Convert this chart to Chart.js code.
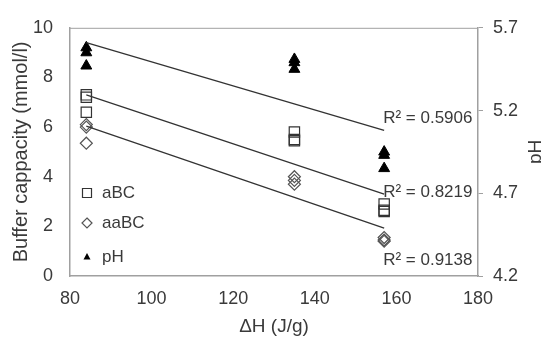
<!DOCTYPE html>
<html>
<head>
<meta charset="utf-8">
<script src="https://cdn.jsdelivr.net/npm/chart.js@4.4.0/dist/chart.umd.min.js"></script>
<style>
  html, body { margin: 0; padding: 0; background: #fff; }
  #wrap { width: 541px; height: 338px; }
</style>
</head>
<body>
<div id="wrap"><canvas id="chart" width="541" height="338"></canvas></div>
<script>
// values (3 replicates per enthalpy value)
const dH = [84, 84, 84, 135, 135, 135, 157, 157, 157];
const aBC = [7.3, 7.2, 6.6, 5.8, 5.5, 5.45, 2.9, 2.65, 2.6];
const aaBC = [6.1, 6.0, 5.35, 4.0, 3.85, 3.7, 1.55, 1.45, 1.4];
const pH = [5.58, 5.55, 5.47, 5.51, 5.49, 5.45, 4.95, 4.93, 4.85];

// linear trendlines, end points
const trendX = [84, 157];
const aBCTrend = [7.3, 3.3];
const aaBCTrend = [6.04, 1.93];
const pHTrend = [5.61, 5.08];
const r2Labels = ["R² = 0.5906", "R² = 0.8219", "R² = 0.9138"];

const xTicks = [80, 100, 120, 140, 160, 180];
const leftTicks = [0, 2, 4, 6, 8, 10];
const rightTicks = [4.2, 4.7, 5.2, 5.7];

const FONT = "'Liberation Sans', Arial, sans-serif";
const TXT = "#3a3a3a";
const AXIS = "#a0a0a0";

const pts = (xs, ys) => xs.map((x, i) => ({ x: x, y: ys[i] }));
const fixTicks = (arr) => (scale) => { scale.ticks = arr.map((v) => ({ value: v })); };

// top frame line, pH title, R² labels and the in-plot legend
const extras = {
  id: "extras",
  afterDraw(chart) {
    const { ctx, chartArea: a, scales } = chart;
    ctx.save();
    ctx.strokeStyle = AXIS;
    ctx.lineWidth = 1;
    ctx.beginPath();
    ctx.moveTo(a.left, a.top + 0.5);
    ctx.lineTo(a.right, a.top + 0.5);
    ctx.stroke();

    // pH title, rotated like the left one
    ctx.fillStyle = TXT;
    ctx.font = "19px " + FONT;
    ctx.save();
    ctx.translate(541, (a.top + a.bottom) / 2);
    ctx.rotate(-Math.PI / 2);
    ctx.textAlign = "center";
    ctx.textBaseline = "alphabetic";
    ctx.fillText("pH", 0, 0);
    ctx.restore();

    // R² labels next to the line ends
    ctx.font = "17px " + FONT;
    ctx.textAlign = "left";
    ctx.textBaseline = "middle";
    const lx = scales.x.getPixelForValue(157) - 1;
    const ly = [6.35, 3.37, 0.63];
    r2Labels.forEach((t, i) => ctx.fillText(t, lx, scales.y.getPixelForValue(ly[i])));

    // legend
    const items = [
      { label: "aBC", kind: "rect", y: 193 },
      { label: "aaBC", kind: "diamond", y: 223 },
      { label: "pH", kind: "tri", y: 257 }
    ];
    const mx = 87;
    items.forEach((it) => {
      ctx.lineWidth = 1.2;
      ctx.beginPath();
      if (it.kind === "rect") {
        ctx.strokeStyle = "#333";
        ctx.rect(mx - 4.5, it.y - 4.5, 9, 9);
        ctx.stroke();
      } else if (it.kind === "diamond") {
        ctx.strokeStyle = "#555";
        ctx.moveTo(mx, it.y - 5);
        ctx.lineTo(mx + 5, it.y);
        ctx.lineTo(mx, it.y + 5);
        ctx.lineTo(mx - 5, it.y);
        ctx.closePath();
        ctx.stroke();
      } else {
        ctx.fillStyle = "#000";
        ctx.moveTo(mx, it.y - 4);
        ctx.lineTo(mx + 3.5, it.y + 2.5);
        ctx.lineTo(mx - 3.5, it.y + 2.5);
        ctx.closePath();
        ctx.fill();
      }
      ctx.fillStyle = TXT;
      ctx.fillText(it.label, 102, it.y);
    });
    ctx.restore();
  }
};

const lineDs = (ys, axis) => ({
  type: "line",
  data: pts(trendX, ys),
  yAxisID: axis,
  borderColor: "#333",
  borderWidth: 1.3,
  pointRadius: 0,
  fill: false,
  order: 0
});

new Chart(document.getElementById("chart"), {
  type: "scatter",
  data: {
    datasets: [
      lineDs(pHTrend, "y2"),
      lineDs(aBCTrend, "y"),
      lineDs(aaBCTrend, "y"),
      {
        label: "aBC",
        data: pts(dH, aBC),
        yAxisID: "y",
        pointStyle: "rect",
        pointRadius: 7.3,
        borderColor: "#333",
        backgroundColor: "rgba(255,255,255,0)",
        borderWidth: 1.2,
        order: 1
      },
      {
        label: "aaBC",
        data: pts(dH, aaBC),
        yAxisID: "y",
        pointStyle: "rectRot",
        pointRadius: 6,
        borderColor: "#555",
        backgroundColor: "rgba(255,255,255,0)",
        borderWidth: 1.2,
        order: 1
      },
      {
        label: "pH",
        data: pts(dH, pH),
        yAxisID: "y2",
        pointStyle: "triangle",
        pointRadius: 6.3,
        borderColor: "#000",
        backgroundColor: "#000",
        borderWidth: 1,
        order: 1
      }
    ]
  },
  options: {
    responsive: false,
    animation: false,
    layout: { padding: { top: 21, right: 0, left: 0, bottom: 0 } },
    plugins: { legend: { display: false }, tooltip: { enabled: false } },
    scales: {
      x: {
        type: "linear",
        min: 80,
        max: 180,
        afterBuildTicks: fixTicks(xTicks),
        afterFit: (s) => { s.height = 62; },
        grid: { display: false, drawTicks: false },
        border: { color: AXIS, width: 1.5 },
        ticks: { color: TXT, font: { family: FONT, size: 18 }, padding: 12, maxRotation: 0 },
        title: { display: true, text: "ΔH (J/g)", color: TXT, font: { family: FONT, size: 19 }, padding: { top: 0, bottom: 0 } }
      },
      y: {
        position: "left",
        min: 0,
        max: 10,
        afterBuildTicks: fixTicks(leftTicks),
        afterFit: (s) => { s.width = 70; },
        grid: { display: false, drawTicks: false },
        border: { color: AXIS, width: 1.5 },
        ticks: { color: TXT, font: { family: FONT, size: 18 }, padding: 17 },
        title: { display: true, text: "Buffer cappacity (mmol/l)", color: TXT, font: { family: FONT, size: 20 }, padding: { top: 9, bottom: 0 } }
      },
      y2: {
        position: "right",
        min: 4.2,
        max: 5.7,
        afterBuildTicks: fixTicks(rightTicks),
        afterFit: (s) => { s.width = 63; },
        grid: { drawOnChartArea: false, drawTicks: true, tickLength: 5, color: AXIS },
        border: { color: AXIS, width: 1.5 },
        ticks: { color: TXT, font: { family: FONT, size: 18 }, padding: 10, callback: (v) => v.toFixed(1) }
      }
    }
  },
  plugins: [extras]
});
</script>
</body>
</html>
